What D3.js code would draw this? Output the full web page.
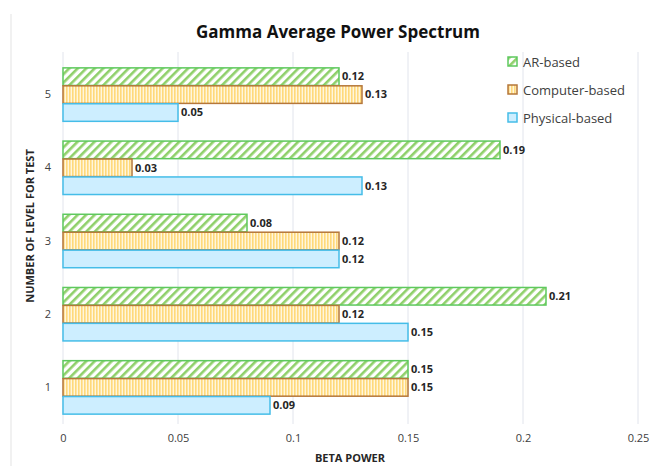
<!DOCTYPE html>
<html>
<head>
<meta charset="utf-8">
<script src="https://cdn.jsdelivr.net/npm/d3@7"></script>
<style>
  body { margin: 0; background: #fff; }
  text { font-family: "Open Sans", "Liberation Sans", sans-serif; }
</style>
</head>
<body>
<svg id="chart"></svg>
<script>
// data
const levels = ['5', '4', '3', '2', '1'];
const seriesNames = ['AR-based', 'Computer-based', 'Physical-based'];
const arBased = [0.12, 0.19, 0.08, 0.21, 0.15];        // levels 5..1
const computerBased = [0.13, 0.03, 0.12, 0.12, 0.15];
const physicalBased = [0.05, 0.13, 0.12, 0.15, 0.09];
const xTicks = [0, 0.05, 0.1, 0.15, 0.2, 0.25];

const width = 663, height = 466;
const margin = { top: 58, bottom: 42, left: 63, right: 25 };

const svg = d3.select('#chart')
    .attr('width', width)
    .attr('height', height);

// patterns for the hatched series
const defs = svg.append('defs');
const diag = defs.append('pattern')
    .attr('id', 'hatchGreen')
    .attr('patternUnits', 'userSpaceOnUse')
    .attr('width', 6).attr('height', 6)
    .attr('patternTransform', 'rotate(45)');
diag.append('rect').attr('width', 6).attr('height', 6).attr('fill', '#fff');
diag.append('rect').attr('width', 2.6).attr('height', 6).attr('fill', '#8fd06a');

const vert = defs.append('pattern')
    .attr('id', 'stripeYellow')
    .attr('patternUnits', 'userSpaceOnUse')
    .attr('width', 3).attr('height', 6);
vert.append('rect').attr('width', 3).attr('height', 6).attr('fill', '#fff6dc');
vert.append('rect').attr('width', 1.6).attr('height', 6).attr('fill', '#ffd97a');

const styles = {
  'AR-based': { fill: 'url(#hatchGreen)', stroke: '#5ec95e' },
  'Computer-based': { fill: 'url(#stripeYellow)', stroke: '#b5773a' },
  'Physical-based': { fill: '#cdeeff', stroke: '#45bde8' }
};

// chart border
svg.append('line')
    .attr('x1', 11).attr('x2', 11)
    .attr('y1', 14).attr('y2', height)
    .attr('stroke', '#e3e3e3');

const x = d3.scaleLinear()
    .domain([0, 0.25])
    .range([margin.left, 638]);

const y = d3.scaleBand()
    .domain(levels)
    .range([margin.top, height - margin.bottom])
    .paddingInner(0.26)
    .paddingOuter(0.13);

const ySub = d3.scaleBand()
    .domain(seriesNames)
    .range([0, y.bandwidth()])
    .padding(0.02);

// gridlines
svg.append('g')
    .selectAll('line')
    .data(xTicks)
    .join('line')
    .attr('x1', d => x(d)).attr('x2', d => x(d))
    .attr('y1', 52).attr('y2', height - margin.bottom)
    .attr('stroke', '#e1e4ec')
    .attr('stroke-width', 1);

// x axis labels
const xAxis = d3.axisBottom(x)
    .tickValues(xTicks)
    .tickSize(0)
    .tickPadding(10)
    .tickFormat(d => d);

svg.append('g')
    .attr('transform', `translate(0,${height - margin.bottom})`)
    .call(xAxis)
    .call(g => g.select('.domain').remove())
    .call(g => g.selectAll('text')
        .attr('fill', '#404040')
        .style('font-size', '11px')
        .style('font-family', '"Open Sans", sans-serif'));

// y axis labels
const yAxis = d3.axisLeft(y)
    .tickSize(0)
    .tickPadding(12);

svg.append('g')
    .attr('transform', `translate(${margin.left},0)`)
    .call(yAxis)
    .call(g => g.select('.domain').remove())
    .call(g => g.selectAll('text')
        .attr('fill', '#404040')
        .style('font-size', '11px')
        .style('font-family', '"Open Sans", sans-serif'));

const seriesData = [arBased, computerBased, physicalBased];
const rows = [];
levels.forEach((lvl, i) => {
  seriesNames.forEach((s, j) => {
    rows.push({ level: lvl, series: s, value: seriesData[j][i] });
  });
});

const bars = svg.append('g')
    .selectAll('g')
    .data(rows)
    .join('g')
    .attr('transform', d => `translate(0,${y(d.level) + ySub(d.series)})`);

bars.append('rect')
    .attr('x', x(0))
    .attr('y', 0)
    .attr('width', d => x(d.value) - x(0))
    .attr('height', ySub.bandwidth())
    .attr('fill', d => styles[d.series].fill)
    .attr('stroke', d => styles[d.series].stroke)
    .attr('stroke-width', 1.5);

bars.append('text')
    .attr('x', d => x(d.value) + 3)
    .attr('y', ySub.bandwidth() / 2)
    .attr('dy', '0.35em')
    .attr('fill', '#262626')
    .style('font-size', '11px')
    .style('font-weight', 'bold')
    .text(d => d.value.toFixed(2));

// title
svg.append('text')
    .attr('x', 338)
    .attr('y', 38)
    .attr('text-anchor', 'middle')
    .attr('fill', '#111')
    .style('font-size', '17px')
    .style('font-weight', 'bold')
    .text('Gamma Average Power Spectrum');

// axis titles
svg.append('text')
    .attr('x', 350)
    .attr('y', 462)
    .attr('text-anchor', 'middle')
    .attr('fill', '#262626')
    .style('font-size', '11px')
    .style('font-weight', 'bold')
    .text('BETA POWER');

svg.append('text')
    .attr('transform', 'translate(34,226) rotate(-90)')
    .attr('text-anchor', 'middle')
    .attr('fill', '#262626')
    .style('font-size', '11px')
    .style('font-weight', 'bold')
    .text('NUMBER OF LEVEL FOR TEST');

// legend
const legend = svg.append('g')
    .attr('transform', 'translate(508,57)');

const item = legend.selectAll('g')
    .data(seriesNames)
    .join('g')
    .attr('transform', (d, i) => `translate(0,${i * 28})`);

item.append('rect')
    .attr('width', 9).attr('height', 9)
    .attr('fill', d => styles[d].fill)
    .attr('stroke', d => styles[d].stroke)
    .attr('stroke-width', 1.5);

item.append('text')
    .attr('x', 15)
    .attr('y', 5)
    .attr('dy', '0.35em')
    .attr('fill', '#404040')
    .style('font-size', '13px')
    .text(d => d);
</script>
</body>
</html>
